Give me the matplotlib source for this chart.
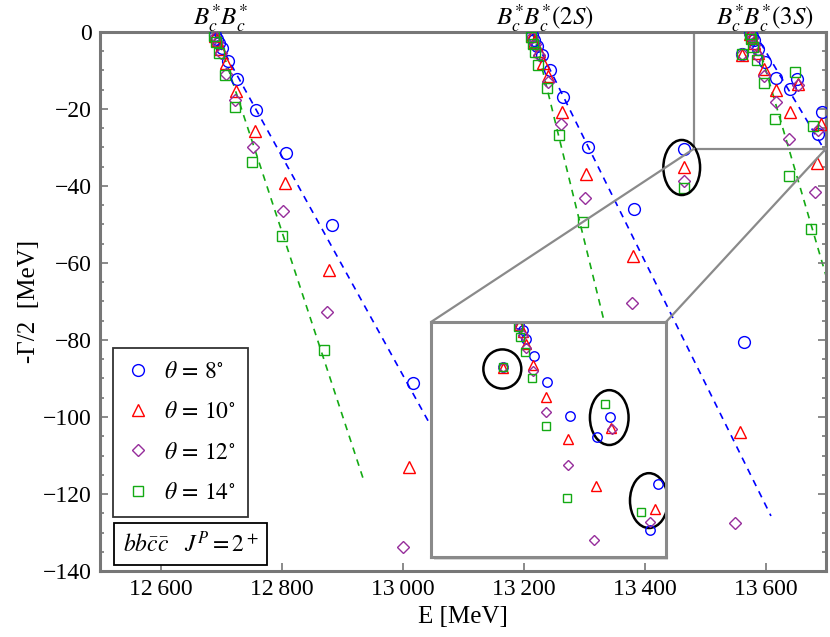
import matplotlib
matplotlib.use('Agg')
import matplotlib.pyplot as plt
from matplotlib.patches import Ellipse, Rectangle, ConnectionPatch
from matplotlib.ticker import MultipleLocator, FuncFormatter

plt.rcParams['font.family'] = ['Liberation Serif', 'DejaVu Serif']
plt.rcParams['mathtext.fontset'] = 'stix'

# theta = 8 deg (E, -Gamma/2) in MeV
e8 = [12690, 12693, 12697, 12702, 12712, 12727, 12758, 12807, 12884, 13018,
      13214, 13218, 13223, 13230, 13244, 13266, 13307, 13383, 13465,
      13561, 13575, 13578, 13581, 13588, 13599, 13618, 13641, 13652, 13693, 13686, 13564]
g8 = [-0.8, -1.7, -2.9, -4.1, -7.5, -12.2, -20.3, -31.5, -50.1, -91.2,
      -0.8, -2.0, -3.6, -6.0, -9.9, -17.0, -29.9, -46.0, -30.5,
      -5.8, -0.3, -1.0, -2.2, -4.3, -7.7, -12.0, -14.7, -12.1, -20.7, -26.5, -80.5]

# theta = 10 deg
e10 = [12690, 12694, 12699, 12708, 12725, 12756, 12805, 12879, 13011,
       13214, 13218, 13225, 13232, 13241, 13263, 13304, 13381, 13465,
       13561, 13575, 13578, 13581, 13587, 13598, 13617, 13640, 13685, 13653, 13691, 13558]
g10 = [-1.0, -2.2, -4.3, -8.1, -15.2, -25.6, -39.1, -61.8, -112.9,
       -1.0, -2.5, -5.0, -8.0, -11.4, -20.8, -37.0, -58.2, -35.1,
       -5.9, -0.4, -1.3, -2.8, -5.5, -9.6, -15.0, -20.9, -34.1, -13.5, -23.9, -103.9]

# theta = 12 deg
e12 = [12690, 12694, 12700, 12708, 12723, 12753, 12803, 12876, 13001,
       13214, 13219, 13226, 13241, 13262, 13302, 13379, 13465,
       13561, 13575, 13578, 13581, 13587, 13598, 13617, 13639, 13681, 13654, 13686, 13550]
g12 = [-1.2, -2.7, -5.5, -10.9, -17.7, -29.8, -46.4, -72.8, -133.7,
       -1.2, -3.0, -6.0, -12.9, -23.9, -43.1, -70.5, -38.6,
       -5.8, -0.5, -1.6, -3.3, -6.3, -11.5, -18.3, -27.8, -41.5, -13.7, -25.5, -127.5]

# theta = 14 deg
e14 = [12689, 12692, 12697, 12707, 12723, 12752, 12801, 12870,
       13213, 13216, 13219, 13224, 13238, 13259, 13299, 13465,
       13561, 13574, 13576, 13580, 13586, 13598, 13616, 13639, 13675, 13648, 13679]
g14 = [-1.0, -2.5, -5.5, -11.1, -19.4, -33.9, -53.0, -82.6,
       -1.2, -3.0, -5.2, -8.6, -14.6, -26.8, -49.3, -40.6,
       -5.8, -0.6, -1.9, -3.8, -7.2, -13.3, -22.5, -37.4, -51.2, -10.5, -24.3]

# dashed continuum lines (start at threshold, end point)
dash8_e0 = [12687, 13213, 13581]
dash8_e1 = [13043, 13609, 13700]
dash8_g1 = [-101.2, -125.7, -31.3]
dash14_e0 = [12692, 13216, 13582]
dash14_e1 = [12936, 13340, 13700]
dash14_g1 = [-116.5, -79.5, -63.3]

threshold_labels = [r'$B_c^{*}B_c^{*}$', r'$B_c^{*}B_c^{*}(2S)$', r'$B_c^{*}B_c^{*}(3S)$']
threshold_label_e = [12700, 13235, 13599]

# ellipses (center E, center G, width, height)
ell_main = (13461.5, -35.2, 60.7, 14.3)
ell_inset_e = [13560.7, 13651.7, 13685.5]
ell_inset_g = [-6.0, -12.2, -22.8]
ell_inset_w = [32.3, 32.9, 32.3]
ell_inset_h = [5.0, 7.0, 7.0]

blue = '#0000ff'
red = '#ff0000'
purple = '#962d9b'
green = '#14aa14'
gray = '#8a8a8a'

series = [
    (e8, g8, 'o', blue, 8.5, r'$\theta\, =\, 8^{\circ}$'),
    (e10, g10, '^', red, 8.5, r'$\theta\, =\, 10^{\circ}$'),
    (e12, g12, 'D', purple, 6.2, r'$\theta\, =\, 12^{\circ}$'),
    (e14, g14, 's', green, 7.8, r'$\theta\, =\, 14^{\circ}$'),
]

fig = plt.figure(figsize=(8.3, 6.37), dpi=100)
ax = fig.add_axes([0.1205, 0.1036, 0.8747, 0.8462])

for a0, a1, b1 in zip(dash8_e0, dash8_e1, dash8_g1):
    ax.plot([a0, a1], [0, b1], color=blue, lw=1.2, ls=(0, (4, 3.5)), zorder=1)
for a0, a1, b1 in zip(dash14_e0, dash14_e1, dash14_g1):
    ax.plot([a0, a1], [0, b1], color=green, lw=1.2, ls=(0, (4, 3.5)), zorder=1)

for e, g, m, c, ms, lab in series:
    ax.plot(e, g, ls='none', marker=m, ms=ms, mfc='none', mec=c, mew=1.0,
            label=lab, zorder=3)

ax.set_xlim(12500, 13700)
ax.set_ylim(-140, 0)
ax.set_xticks(range(12600, 13601, 200))
ax.yaxis.set_major_locator(MultipleLocator(20))
ax.yaxis.set_minor_locator(MultipleLocator(5))
ax.xaxis.set_major_formatter(FuncFormatter(lambda v, p: f"{int(v):,}".replace(',', '\u2009')))
ax.yaxis.set_major_formatter(FuncFormatter(lambda v, p: f"{int(round(v))}".replace('-', '\u2212')))
ax.tick_params(which='both', direction='in', top=False, right=True, color='#777777',
               width=1.2, labelsize=17, pad=6)
ax.tick_params(which='major', length=6)
ax.tick_params(which='minor', length=3)
for s in ax.spines.values():
    s.set_color('#777777')
    s.set_linewidth(2.2)

ax.set_xlabel('E [MeV]', fontsize=18, labelpad=4)
ax.set_ylabel('-\u0393/2  [MeV]', fontsize=18, labelpad=2)

for lab, x in zip(threshold_labels, threshold_label_e):
    ax.text(x, 1.012, lab, transform=ax.get_xaxis_transform(), ha='center',
            va='baseline', fontsize=18)

leg = ax.legend(loc='lower left', bbox_to_anchor=(0.018, 0.100), borderaxespad=0,
                fontsize=17, frameon=True, fancybox=False, labelspacing=0.8,
                handletextpad=0.6, borderpad=0.55, handlelength=1.0)
leg.get_frame().set_edgecolor('black')
leg.get_frame().set_linewidth(1.3)

ax.text(0.1247, 0.05, r'$bb\bar{c}\bar{c}\ \ \ J^P = 2^+$', transform=ax.transAxes,
        ha='center', va='center', fontsize=17,
        bbox=dict(boxstyle='square,pad=0.35', fc='white', ec='black', lw=1.3))

ax.add_patch(Ellipse((ell_main[0], ell_main[1]), ell_main[2], ell_main[3],
                     fill=False, ec='black', lw=1.8, zorder=4))

# zoom rectangle
ax.add_patch(Rectangle((13482, -30.3), 218, 30.3, fill=False, ec=gray, lw=1.6, zorder=2))

ins_box = [0.5193, 0.1256, 0.2831, 0.3689]
# soft shadow behind the inset
fig.add_artist(Rectangle((ins_box[0] + 0.003, ins_box[1] - 0.004), ins_box[2], ins_box[3],
                         transform=fig.transFigure, fc='#d8d8d8', ec='none', zorder=1))
axins = fig.add_axes(ins_box)
axins.set_zorder(2)
axins.set_facecolor('white')
for e, g, m, c, ms, lab in series:
    axins.plot(e, g, ls='none', marker=m, ms=ms * 0.8, mfc='none', mec=c, mew=1.0)
axins.set_xlim(13500, 13700)
axins.set_ylim(-30, 0)
axins.set_xticks([])
axins.set_yticks([])
for s in axins.spines.values():
    s.set_color(gray)
    s.set_linewidth(2.2)
for x, y, w, h in zip(ell_inset_e, ell_inset_g, ell_inset_w, ell_inset_h):
    axins.add_patch(Ellipse((x, y), w, h, fill=False, ec='black', lw=1.8))

for xa, xb in [((13482, -30.3), (0, 1)), ((13700, -30.3), (1, 1))]:
    con = ConnectionPatch(xyA=xa, coordsA=ax.transData, xyB=xb, coordsB=axins.transAxes,
                          color=gray, lw=1.6, zorder=3)
    fig.add_artist(con)

fig.savefig('out.png', dpi=100)
